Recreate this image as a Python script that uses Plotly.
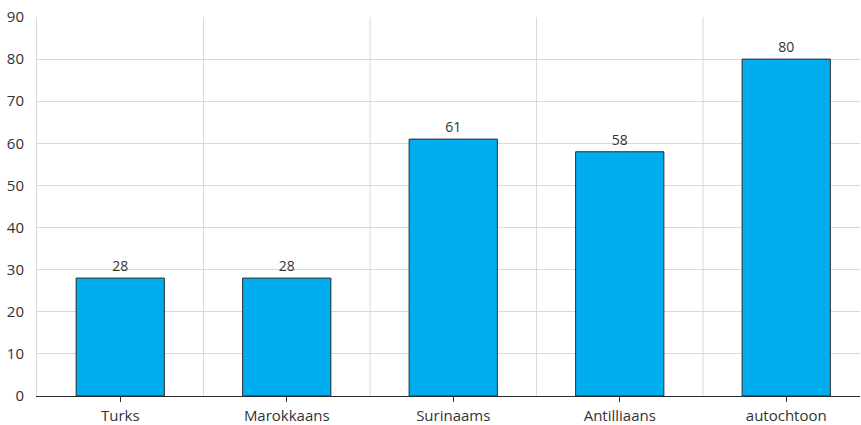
import plotly.graph_objects as go

categories = ["Turks", "Marokkaans", "Surinaams", "Antilliaans", "autochtoon"]
values = [28, 28, 61, 58, 80]
y_ticks = [0, 10, 20, 30, 40, 50, 60, 70, 80, 90]

FONT = "Open Sans"
TXT = "#333333"
GRID = "#d9d9d9"

fig = go.Figure()
fig.add_trace(go.Bar(
    x=categories, y=values,
    marker=dict(color="#00adef", line=dict(color="#2b2b2b", width=1)),
    width=0.53,
    text=[str(v) for v in values],
    textposition="outside",
    textfont=dict(family=FONT, size=14, color=TXT),
    cliponaxis=False,
))

shapes = []
for i in range(1, len(categories)):
    shapes.append(dict(type="line", xref="x", yref="y", x0=i - 0.5, x1=i - 0.5,
                       y0=0, y1=90, line=dict(color=GRID, width=1), layer="below"))
fig.update_layout(shapes=shapes)

fig.update_layout(
    width=861, height=425,
    margin=dict(l=37, r=1, t=17, b=29, autoexpand=False),
    plot_bgcolor="white", paper_bgcolor="white",
    showlegend=False,
    font=dict(family=FONT, size=14, color=TXT),
    xaxis=dict(
        type="category",
        automargin=False,
        range=[-0.5, 4.443],
        showgrid=False,
        showline=True, linecolor="#2b2b2b", linewidth=1,
        ticks="outside", ticklen=5, tickcolor="#2b2b2b", tickwidth=1,
        ticklabelstandoff=1,
        tickfont=dict(family=FONT, size=15, color=TXT),
    ),
    yaxis=dict(
        automargin=False,
        range=[0, 90],
        tickvals=y_ticks,
        showgrid=True, gridcolor=GRID, gridwidth=1,
        showline=True, linecolor=GRID, linewidth=1,
        zeroline=False,
        ticks="", ticklabelstandoff=9,
        tickfont=dict(family=FONT, size=15, color=TXT),
    ),
)

fig.write_html(
    "out.html",
    config={"displayModeBar": False},
    post_script="document.body.style.margin='0';document.body.style.overflow='hidden';",
)
